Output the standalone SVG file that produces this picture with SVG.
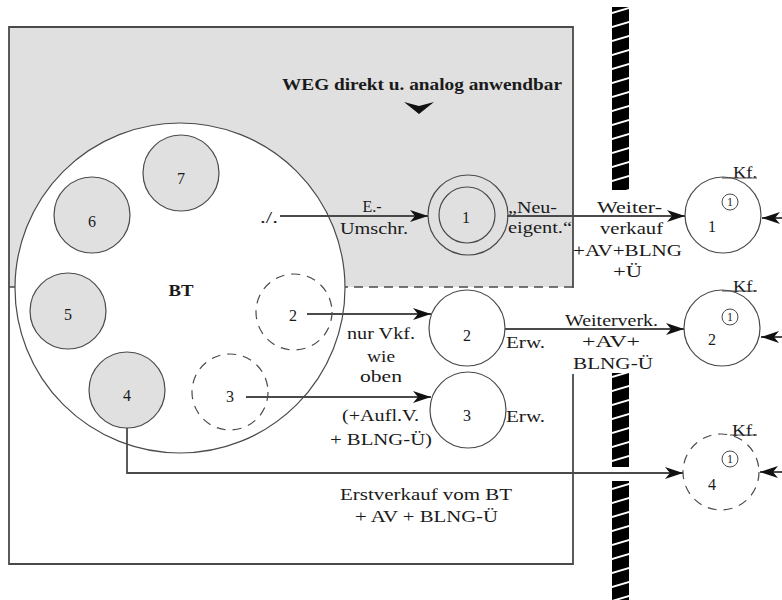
<svg xmlns="http://www.w3.org/2000/svg" width="782" height="600" viewBox="0 0 782 600">
<style>
text{font-family:"Liberation Serif","Times New Roman",serif;font-size:16px;fill:#1a1a1a}
.b{font-weight:bold}
.m{text-anchor:middle}
.s{font-size:12px}
.c{stroke:#4a4a4a;stroke-width:1.2;fill:none}
.cg{stroke:#4a4a4a;stroke-width:1.2;fill:#e0e0e0}
.cd{stroke:#4a4a4a;stroke-width:1.2;fill:none;stroke-dasharray:9 7}
.sc{stroke:#4a4a4a;stroke-width:1;fill:none}
.arr{stroke:#4a4a4a;stroke-width:1.8;fill:none;marker-end:url(#ah)}
</style>
<defs>
<marker id="ah" markerUnits="userSpaceOnUse" markerWidth="18" markerHeight="12" refX="18" refY="6" orient="auto">
<path d="M0,0 L18,6 L0,12 L5,6 Z" fill="#111"/>
</marker>
<pattern id="hatch" patternUnits="userSpaceOnUse" x="612" y="0" width="17" height="14">
<rect width="17" height="14" fill="#000"/>
<path d="M-1,13.3 L18,7.7" stroke="#fff" stroke-width="2"/>
</pattern>
</defs>
<rect width="782" height="600" fill="#fff"/>
<g id="frame">
<rect x="9" y="27" width="564" height="260" fill="#e0e0e0"/>
<line x1="9" y1="287" x2="573" y2="287" stroke="#4a4a4a" stroke-width="1.4" stroke-dasharray="9 6"/>
<path d="M573,288 V27 H9 V564 H573 V374" stroke="#4a4a4a" stroke-width="1.8" fill="none"/>
<text class="b m" x="422" y="90" textLength="280" lengthAdjust="spacingAndGlyphs">WEG direkt u. analog anwendbar</text>
<polygon points="404,102 419,106 434,102 419,114" fill="#111"/>
</g>
<g id="wall">
<rect x="612" y="7" width="17" height="183" fill="url(#hatch)"/>
<rect x="612" y="373" width="17" height="94" fill="url(#hatch)"/>
<rect x="612" y="481" width="17" height="119" fill="url(#hatch)"/>
</g>
<g id="BT">
<circle cx="180" cy="288" r="165" stroke="#4a4a4a" stroke-width="1.2" fill="#fff"/>
<text class="b m" x="181" y="296" textLength="25" lengthAdjust="spacingAndGlyphs">BT</text>
</g>
<g id="u7"><circle class="cg" cx="181" cy="173" r="38"/><text class="m" x="181" y="184">7</text></g>
<g id="u6"><circle class="cg" cx="92" cy="215" r="38"/><text class="m" x="92" y="227">6</text></g>
<g id="u5"><circle class="cg" cx="68" cy="311" r="38"/><text class="m" x="68" y="320">5</text></g>
<g id="u4"><circle class="cg" cx="127" cy="390" r="38"/><text class="m" x="127" y="401">4</text></g>
<g id="u2d"><circle class="cd" cx="294" cy="312" r="38"/><text class="m" x="293" y="321">2</text></g>
<g id="u3d"><circle class="cd" cx="230" cy="392" r="38"/><text class="m" x="230" y="402">3</text></g>
<g id="n1">
<circle class="c" cx="468" cy="215" r="40"/>
<circle class="c" cx="467" cy="215" r="28"/>
<text class="m" x="466" y="223">1</text>
</g>
<g id="n2"><circle class="c" cx="467" cy="328" r="38"/><text class="m" x="467" y="341">2</text>
<text x="506" y="348" textLength="39" lengthAdjust="spacingAndGlyphs">Erw.</text></g>
<g id="n3"><circle class="c" cx="468" cy="410" r="38"/><text class="m" x="467" y="421">3</text>
<text x="506" y="422" textLength="39" lengthAdjust="spacingAndGlyphs">Erw.</text></g>
<g id="kf1">
<circle class="c" cx="723" cy="215" r="38"/>
<text x="733" y="178" textLength="24" lengthAdjust="spacingAndGlyphs">Kf.</text>
<line x1="722" y1="178" x2="757" y2="178" stroke="#4a4a4a" stroke-width="1"/>
<circle class="sc" cx="730" cy="202" r="8"/><text class="m s" x="730" y="206">1</text>
<text class="m" x="712" y="232">1</text>
</g>
<g id="kf2">
<circle class="c" cx="722" cy="328" r="38"/>
<text x="733" y="292" textLength="24" lengthAdjust="spacingAndGlyphs">Kf.</text>
<line x1="722" y1="291" x2="757" y2="291" stroke="#4a4a4a" stroke-width="1"/>
<circle class="sc" cx="730" cy="317" r="8"/><text class="m s" x="730" y="321">1</text>
<text class="m" x="712" y="345">2</text>
</g>
<g id="kf4">
<circle class="cd" cx="721" cy="472" r="38"/>
<text x="732" y="436" textLength="25" lengthAdjust="spacingAndGlyphs">Kf.</text>
<line x1="730" y1="435" x2="757" y2="435" stroke="#4a4a4a" stroke-width="1"/>
<circle class="sc" cx="730" cy="459" r="8"/><text class="m s" x="730" y="463">1</text>
<text class="m" x="712" y="490">4</text>
</g>
<g id="connectors">
<line class="arr" x1="280" y1="216" x2="428" y2="216"/>
<line class="arr" x1="507" y1="216" x2="685" y2="216"/>
<line class="arr" x1="307" y1="314" x2="431" y2="314"/>
<line class="arr" x1="505" y1="329" x2="684" y2="329"/>
<line class="arr" x1="246" y1="397" x2="431" y2="397"/>
<path class="arr" d="M127,428 V473 H683"/>
<line class="arr" x1="795" y1="218" x2="762" y2="218"/>
<line class="arr" x1="795" y1="337" x2="761" y2="337"/>
<line class="arr" x1="795" y1="472" x2="760" y2="472"/>
</g>
<g id="labels">
<text x="260" y="223" textLength="18" lengthAdjust="spacingAndGlyphs">./.</text>
<text class="m" x="372" y="212">E.-</text>
<text x="340" y="234" textLength="68" lengthAdjust="spacingAndGlyphs">Umschr.</text>
<text x="508" y="213" textLength="49" lengthAdjust="spacingAndGlyphs">„Neu-</text>
<text x="508" y="233" textLength="64" lengthAdjust="spacingAndGlyphs">eigent.“</text>
<text x="597" y="213" textLength="65" lengthAdjust="spacingAndGlyphs">Weiter-</text>
<text x="600" y="234" textLength="63" lengthAdjust="spacingAndGlyphs">verkauf</text>
<text x="573" y="256" textLength="109" lengthAdjust="spacingAndGlyphs">+AV+BLNG</text>
<text x="613" y="277" textLength="29" lengthAdjust="spacingAndGlyphs">+Ü</text>
<text x="565" y="326" textLength="93" lengthAdjust="spacingAndGlyphs">Weiterverk.</text>
<text x="582" y="347" textLength="58" lengthAdjust="spacingAndGlyphs">+AV+</text>
<text x="573" y="369" textLength="80" lengthAdjust="spacingAndGlyphs">BLNG-Ü</text>
<text x="347" y="339" textLength="68" lengthAdjust="spacingAndGlyphs">nur Vkf.</text>
<text x="367" y="362" textLength="28" lengthAdjust="spacingAndGlyphs">wie</text>
<text x="360" y="382" textLength="42" lengthAdjust="spacingAndGlyphs">oben</text>
<text x="342" y="421" textLength="77" lengthAdjust="spacingAndGlyphs">(+Aufl.V.</text>
<text x="330" y="445" textLength="102" lengthAdjust="spacingAndGlyphs">+ BLNG-Ü)</text>
<text x="340" y="500" textLength="172" lengthAdjust="spacingAndGlyphs">Erstverkauf vom BT</text>
<text x="355" y="522" textLength="143" lengthAdjust="spacingAndGlyphs">+ AV + BLNG-Ü</text>
</g>
</svg>
